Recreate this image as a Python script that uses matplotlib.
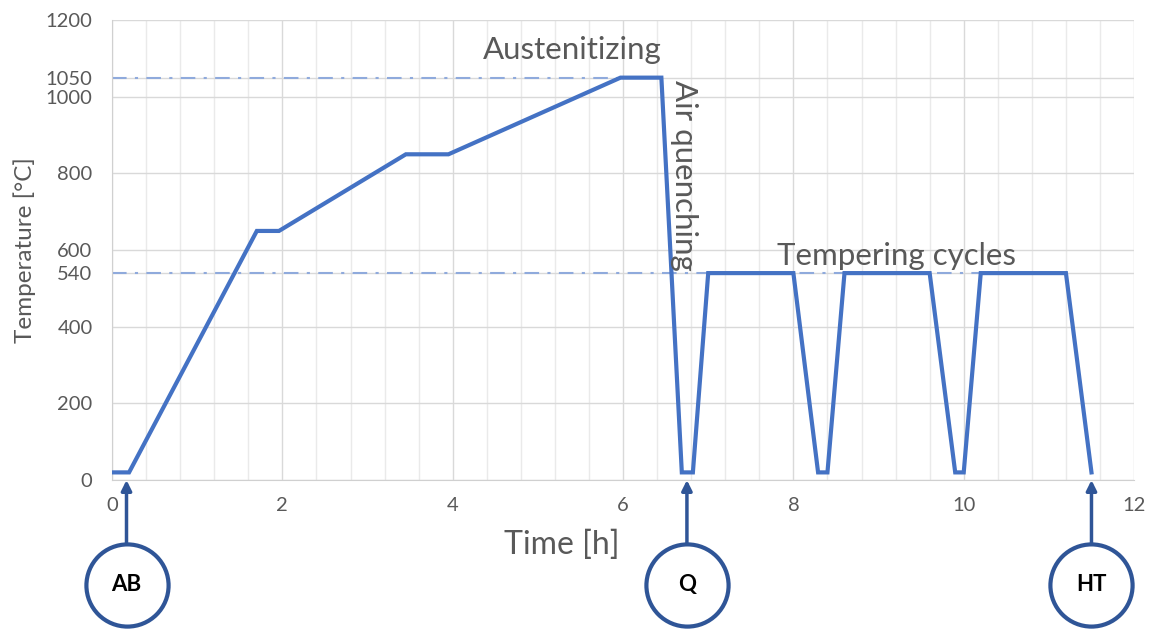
import numpy as np
import matplotlib
matplotlib.use("Agg")
import matplotlib.pyplot as plt
from matplotlib.ticker import MultipleLocator

# heat treatment schedule (time in h, temperature in degC)
time_h = [0, 0.2, 1.7, 1.96, 3.45, 3.95, 5.97, 6.45, 6.69, 6.82, 7.0, 8.0,
          8.29, 8.4, 8.6, 9.6, 9.9, 10.0, 10.2, 11.2, 11.5]
temp_c = [20, 20, 650, 650, 850, 850, 1050, 1050, 20, 20, 540, 540,
          20, 20, 540, 540, 20, 20, 540, 540, 20]

y_ticks = [0, 200, 400, 540, 600, 800, 1000, 1050, 1200]
x_ticks = [0, 2, 4, 6, 8, 10, 12]

# reference levels: (temperature, end time)
ref_levels = [(1050, 5.97), (540, 11.2)]

# sample points
sample_labels = ["AB", "Q", "HT"]
sample_x = [0.17, 6.75, 11.5]

grey = "#595959"
line_blue = "#4472C4"
dark_blue = "#2F5597"
plt.rcParams['font.family'] = ['Lato', 'DejaVu Sans']

fig = plt.figure(figsize=(11.49, 6.30), dpi=100)
ax = fig.add_axes([0.0975, 0.238, 0.8895, 0.730])

for lvl, t_end in ref_levels:
    ax.plot([0, t_end], [lvl, lvl], color="#8FAADC", lw=1.5,
            linestyle=(0, (7, 4, 1.5, 4)), zorder=2)

ax.plot(time_h, temp_c, color=line_blue, lw=3, zorder=3,
        solid_joinstyle="miter")

ax.set_xlim(0, 12)
ax.set_ylim(0, 1200)
ax.set_xticks(x_ticks)
ax.set_yticks(y_ticks)
ax.xaxis.set_minor_locator(MultipleLocator(0.4))
ax.grid(True, which="major", color="#D9D9D9", lw=1)
ax.grid(True, which="minor", axis="x", color="#EAEAEA", lw=1)
ax.set_axisbelow(True)
ax.tick_params(which="both", length=0, labelsize=14.5, labelcolor=grey)
ax.tick_params(axis="x", pad=12)
ax.tick_params(axis="y", pad=14)
for s in ["top", "right"]:
    ax.spines[s].set_visible(False)
for s in ["left", "bottom"]:
    ax.spines[s].set_color("#D0D0D0")

ax.set_xlabel("Time [h]", fontsize=23, color=grey)
ax.xaxis.set_label_coords(0.44, -0.141)
ax.xaxis.label.set_va("center")
ax.set_ylabel("Temperature [°C]", fontsize=17.5, color=grey)
ax.yaxis.set_label_coords(-0.085, 0.5)
ax.yaxis.label.set_va("center")

ax.text(5.4, 1085, "Austenitizing", fontsize=22.5, color=grey,
        ha="center", va="bottom")
ax.text(6.72, 1043, "Air quenching", fontsize=22.5, color=grey,
        rotation=-90, ha="center", va="top")
ax.text(9.21, 548, "Tempering cycles", fontsize=22.5, color=grey,
        ha="center", va="bottom")

# arrows and circles below the axis
trans = ax.get_xaxis_transform()
for lab, xs in zip(sample_labels, sample_x):
    ax.annotate("", xy=(xs, 0), xycoords=("data", "axes fraction"),
                xytext=(xs, -0.141), textcoords=("data", "axes fraction"),
                arrowprops=dict(arrowstyle="-|>,head_length=0.6,head_width=0.3",
                                color=dark_blue, lw=2.5, shrinkA=0, shrinkB=0))
    ax.scatter([xs], [-0.228], s=3500, marker="o", facecolor="white",
               edgecolor=dark_blue, linewidth=3, transform=trans,
               clip_on=False, zorder=5)
    ax.text(xs, -0.228, lab, transform=trans, ha="center", va="center",
            fontsize=16, fontweight="bold", color="black", zorder=6)

fig.savefig("out.png", dpi=100, facecolor="white")
